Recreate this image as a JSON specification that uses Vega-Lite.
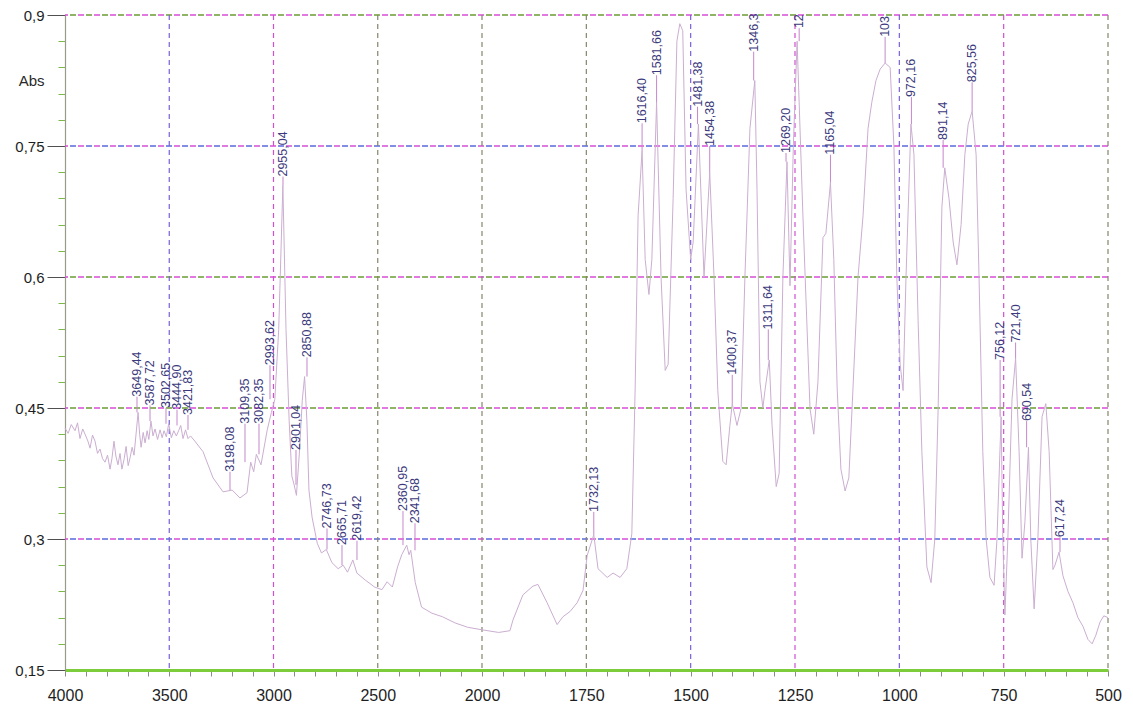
{
  "$schema": "https://vega.github.io/schema/vega-lite/v6.json",
  "width": 1043,
  "height": 655,
  "autosize": "none",
  "padding": {"left": 65, "top": 15, "right": 25, "bottom": 43},
  "background": "white",
  "config": {
    "view": {"stroke": null},
    "locale": {"number": {"decimal": ",", "thousands": ".", "grouping": [3], "currency": ["", " €"]}},
    "font": "Liberation Sans",
    "axis": {"labelOverlap": false, "labelFlush": false}
  },
  "datasets": {
    "spectrum": [
      {"wn": 4000, "abs": 0.427}, {"wn": 3985, "abs": 0.421}, {"wn": 3970, "abs": 0.431}, {"wn": 3952, "abs": 0.424},
      {"wn": 3940, "abs": 0.433}, {"wn": 3928, "abs": 0.415}, {"wn": 3915, "abs": 0.426}, {"wn": 3904, "abs": 0.420},
      {"wn": 3890, "abs": 0.412}, {"wn": 3880, "abs": 0.404}, {"wn": 3868, "abs": 0.419}, {"wn": 3856, "abs": 0.412},
      {"wn": 3844, "abs": 0.398}, {"wn": 3832, "abs": 0.403}, {"wn": 3820, "abs": 0.392}, {"wn": 3808, "abs": 0.388},
      {"wn": 3796, "abs": 0.396}, {"wn": 3784, "abs": 0.380}, {"wn": 3775, "abs": 0.392}, {"wn": 3765, "abs": 0.412},
      {"wn": 3756, "abs": 0.395}, {"wn": 3746, "abs": 0.385}, {"wn": 3736, "abs": 0.398}, {"wn": 3727, "abs": 0.380},
      {"wn": 3716, "abs": 0.392}, {"wn": 3707, "abs": 0.406}, {"wn": 3697, "abs": 0.384}, {"wn": 3688, "abs": 0.393},
      {"wn": 3678, "abs": 0.405}, {"wn": 3669, "abs": 0.396}, {"wn": 3660, "abs": 0.418},
      {"wn": 3649.44, "abs": 0.445}, {"wn": 3642, "abs": 0.420}, {"wn": 3635, "abs": 0.405}, {"wn": 3625, "abs": 0.422},
      {"wn": 3616, "abs": 0.410}, {"wn": 3606, "abs": 0.424}, {"wn": 3598, "abs": 0.414},
      {"wn": 3587.72, "abs": 0.435}, {"wn": 3578, "abs": 0.418}, {"wn": 3568, "abs": 0.426}, {"wn": 3556, "abs": 0.414},
      {"wn": 3544, "abs": 0.425}, {"wn": 3534, "abs": 0.416}, {"wn": 3525, "abs": 0.424}, {"wn": 3514, "abs": 0.417},
      {"wn": 3502.65, "abs": 0.432}, {"wn": 3490, "abs": 0.416}, {"wn": 3478, "abs": 0.424}, {"wn": 3466, "abs": 0.418},
      {"wn": 3455, "abs": 0.424}, {"wn": 3444.90, "abs": 0.430}, {"wn": 3434, "abs": 0.415},
      {"wn": 3421.83, "abs": 0.425}, {"wn": 3410, "abs": 0.415}, {"wn": 3398, "abs": 0.418}, {"wn": 3377, "abs": 0.412},
      {"wn": 3338, "abs": 0.400}, {"wn": 3290, "abs": 0.370}, {"wn": 3242, "abs": 0.354}, {"wn": 3198.08, "abs": 0.356},
      {"wn": 3161, "abs": 0.347}, {"wn": 3127, "abs": 0.353}, {"wn": 3109.35, "abs": 0.388}, {"wn": 3095, "abs": 0.377},
      {"wn": 3082.35, "abs": 0.397}, {"wn": 3060, "abs": 0.385}, {"wn": 3030, "abs": 0.425}, {"wn": 3010, "abs": 0.445},
      {"wn": 2993.62, "abs": 0.460}, {"wn": 2975, "abs": 0.540}, {"wn": 2955.04, "abs": 0.705}, {"wn": 2940, "abs": 0.540},
      {"wn": 2925, "abs": 0.436}, {"wn": 2912, "abs": 0.372}, {"wn": 2901.04, "abs": 0.362}, {"wn": 2890, "abs": 0.350},
      {"wn": 2875, "abs": 0.402}, {"wn": 2862, "abs": 0.459}, {"wn": 2850.88, "abs": 0.486}, {"wn": 2840, "abs": 0.436},
      {"wn": 2830, "abs": 0.356}, {"wn": 2815, "abs": 0.325}, {"wn": 2790, "abs": 0.295}, {"wn": 2770, "abs": 0.284},
      {"wn": 2746.73, "abs": 0.288}, {"wn": 2720, "abs": 0.273}, {"wn": 2690, "abs": 0.266}, {"wn": 2665.71, "abs": 0.270},
      {"wn": 2645, "abs": 0.262}, {"wn": 2619.42, "abs": 0.276}, {"wn": 2600, "abs": 0.261}, {"wn": 2560, "abs": 0.253},
      {"wn": 2515, "abs": 0.245}, {"wn": 2480, "abs": 0.242}, {"wn": 2455, "abs": 0.251}, {"wn": 2430, "abs": 0.245},
      {"wn": 2405, "abs": 0.268}, {"wn": 2385, "abs": 0.282}, {"wn": 2360.95, "abs": 0.293}, {"wn": 2350, "abs": 0.282},
      {"wn": 2341.68, "abs": 0.287}, {"wn": 2320, "abs": 0.250}, {"wn": 2290, "abs": 0.222}, {"wn": 2240, "abs": 0.215},
      {"wn": 2190, "abs": 0.211}, {"wn": 2130, "abs": 0.204}, {"wn": 2070, "abs": 0.199}, {"wn": 2000, "abs": 0.196},
      {"wn": 1960, "abs": 0.193}, {"wn": 1933, "abs": 0.195}, {"wn": 1926, "abs": 0.207}, {"wn": 1902, "abs": 0.236},
      {"wn": 1878, "abs": 0.246}, {"wn": 1866, "abs": 0.248}, {"wn": 1844, "abs": 0.227}, {"wn": 1820, "abs": 0.202},
      {"wn": 1806, "abs": 0.211}, {"wn": 1789, "abs": 0.217}, {"wn": 1772, "abs": 0.227}, {"wn": 1758, "abs": 0.241},
      {"wn": 1748, "abs": 0.281}, {"wn": 1732.13, "abs": 0.305}, {"wn": 1722, "abs": 0.266}, {"wn": 1700, "abs": 0.256},
      {"wn": 1686, "abs": 0.261}, {"wn": 1669, "abs": 0.256}, {"wn": 1653, "abs": 0.266}, {"wn": 1641, "abs": 0.306},
      {"wn": 1633, "abs": 0.473}, {"wn": 1626, "abs": 0.670}, {"wn": 1616.40, "abs": 0.745}, {"wn": 1609, "abs": 0.620},
      {"wn": 1600, "abs": 0.580}, {"wn": 1593, "abs": 0.620}, {"wn": 1581.66, "abs": 0.800}, {"wn": 1571, "abs": 0.600},
      {"wn": 1561, "abs": 0.493}, {"wn": 1554, "abs": 0.500}, {"wn": 1542, "abs": 0.690}, {"wn": 1533, "abs": 0.870},
      {"wn": 1526, "abs": 0.890}, {"wn": 1519, "abs": 0.882}, {"wn": 1511, "abs": 0.700}, {"wn": 1500, "abs": 0.620},
      {"wn": 1494, "abs": 0.640}, {"wn": 1481.38, "abs": 0.775}, {"wn": 1468, "abs": 0.600}, {"wn": 1454.38, "abs": 0.720},
      {"wn": 1444, "abs": 0.600}, {"wn": 1435, "abs": 0.470}, {"wn": 1423, "abs": 0.389}, {"wn": 1415, "abs": 0.385},
      {"wn": 1406, "abs": 0.430}, {"wn": 1400.37, "abs": 0.455}, {"wn": 1389, "abs": 0.430}, {"wn": 1379, "abs": 0.450},
      {"wn": 1370, "abs": 0.600}, {"wn": 1358, "abs": 0.770}, {"wn": 1346.30, "abs": 0.825}, {"wn": 1341, "abs": 0.700},
      {"wn": 1334, "abs": 0.480}, {"wn": 1327, "abs": 0.450}, {"wn": 1322, "abs": 0.470}, {"wn": 1311.64, "abs": 0.505},
      {"wn": 1305, "abs": 0.430}, {"wn": 1295, "abs": 0.360}, {"wn": 1288, "abs": 0.375}, {"wn": 1279, "abs": 0.600},
      {"wn": 1269.20, "abs": 0.732}, {"wn": 1262, "abs": 0.590}, {"wn": 1254, "abs": 0.750}, {"wn": 1244.96, "abs": 0.870},
      {"wn": 1231, "abs": 0.670}, {"wn": 1214, "abs": 0.449}, {"wn": 1205, "abs": 0.420}, {"wn": 1195, "abs": 0.480},
      {"wn": 1183, "abs": 0.645}, {"wn": 1176, "abs": 0.650}, {"wn": 1165.04, "abs": 0.708}, {"wn": 1157, "abs": 0.620},
      {"wn": 1149, "abs": 0.473}, {"wn": 1140, "abs": 0.380}, {"wn": 1130, "abs": 0.355}, {"wn": 1121, "abs": 0.370},
      {"wn": 1111, "abs": 0.473}, {"wn": 1099, "abs": 0.600}, {"wn": 1087, "abs": 0.670}, {"wn": 1075, "abs": 0.770},
      {"wn": 1066, "abs": 0.800}, {"wn": 1056, "abs": 0.825}, {"wn": 1046, "abs": 0.838}, {"wn": 1034.07, "abs": 0.845},
      {"wn": 1022, "abs": 0.840}, {"wn": 1013, "abs": 0.750}, {"wn": 1006, "abs": 0.600}, {"wn": 998, "abs": 0.500},
      {"wn": 991, "abs": 0.470}, {"wn": 984, "abs": 0.600}, {"wn": 972.16, "abs": 0.775}, {"wn": 965, "abs": 0.740},
      {"wn": 955, "abs": 0.550}, {"wn": 946, "abs": 0.400}, {"wn": 934, "abs": 0.268}, {"wn": 924, "abs": 0.250},
      {"wn": 915, "abs": 0.300}, {"wn": 907, "abs": 0.450}, {"wn": 898, "abs": 0.680}, {"wn": 891.14, "abs": 0.725},
      {"wn": 881, "abs": 0.690}, {"wn": 871, "abs": 0.640}, {"wn": 862, "abs": 0.614}, {"wn": 852, "abs": 0.660},
      {"wn": 843, "abs": 0.740}, {"wn": 835, "abs": 0.775}, {"wn": 825.56, "abs": 0.790}, {"wn": 816, "abs": 0.740},
      {"wn": 809, "abs": 0.600}, {"wn": 800, "abs": 0.400}, {"wn": 792, "abs": 0.300}, {"wn": 783, "abs": 0.256},
      {"wn": 773, "abs": 0.247}, {"wn": 766, "abs": 0.300}, {"wn": 756.12, "abs": 0.440}, {"wn": 752, "abs": 0.300},
      {"wn": 747, "abs": 0.213}, {"wn": 740, "abs": 0.300}, {"wn": 730, "abs": 0.460}, {"wn": 721.40, "abs": 0.507},
      {"wn": 713, "abs": 0.400}, {"wn": 706, "abs": 0.278}, {"wn": 699, "abs": 0.320}, {"wn": 690.54, "abs": 0.405},
      {"wn": 685, "abs": 0.300}, {"wn": 677, "abs": 0.220}, {"wn": 668, "abs": 0.300}, {"wn": 658, "abs": 0.440},
      {"wn": 649, "abs": 0.455}, {"wn": 641, "abs": 0.400}, {"wn": 632, "abs": 0.265}, {"wn": 627, "abs": 0.270},
      {"wn": 617.24, "abs": 0.285}, {"wn": 608, "abs": 0.258}, {"wn": 596, "abs": 0.240}, {"wn": 584, "abs": 0.227},
      {"wn": 572, "abs": 0.210}, {"wn": 560, "abs": 0.200}, {"wn": 548, "abs": 0.185}, {"wn": 538, "abs": 0.180},
      {"wn": 529, "abs": 0.190}, {"wn": 519, "abs": 0.205}, {"wn": 510, "abs": 0.212}, {"wn": 500, "abs": 0.210}
    ],
    "peaks": [
      {"wn": 3649.44, "abs": 0.445, "top": 0.463, "lx": 3654.7, "label": "3649,44"},
      {"wn": 3587.72, "abs": 0.435, "top": 0.453, "lx": 3592.3, "label": "3587,72"},
      {"wn": 3502.65, "abs": 0.432, "top": 0.450, "lx": 3515.6, "label": "3502,65"},
      {"wn": 3444.90, "abs": 0.430, "top": 0.448, "lx": 3462.8, "label": "3444,90"},
      {"wn": 3421.83, "abs": 0.425, "top": 0.442, "lx": 3410.1, "label": "3421,83"},
      {"wn": 3198.08, "abs": 0.356, "top": 0.377, "lx": 3208.7, "label": "3198,08"},
      {"wn": 3109.35, "abs": 0.388, "top": 0.432, "lx": 3136.7, "label": "3109,35"},
      {"wn": 3082.35, "abs": 0.397, "top": 0.432, "lx": 3069.6, "label": "3082,35"},
      {"wn": 2993.62, "abs": 0.460, "top": 0.499, "lx": 3016.8, "label": "2993,62"},
      {"wn": 2955.04, "abs": 0.705, "top": 0.715, "lx": 2954.5, "label": "2955,04"},
      {"wn": 2901.04, "abs": 0.362, "top": 0.402, "lx": 2892.1, "label": "2901,04"},
      {"wn": 2850.88, "abs": 0.486, "top": 0.508, "lx": 2839.4, "label": "2850,88"},
      {"wn": 2746.73, "abs": 0.288, "top": 0.312, "lx": 2743.4, "label": "2746,73"},
      {"wn": 2665.71, "abs": 0.270, "top": 0.293, "lx": 2671.5, "label": "2665,71"},
      {"wn": 2619.42, "abs": 0.276, "top": 0.298, "lx": 2599.6, "label": "2619,42"},
      {"wn": 2360.95, "abs": 0.293, "top": 0.332, "lx": 2379.0, "label": "2360,95"},
      {"wn": 2341.68, "abs": 0.287, "top": 0.318, "lx": 2321.4, "label": "2341,68"},
      {"wn": 1732.13, "abs": 0.305, "top": 0.331, "lx": 1732.13, "label": "1732,13"},
      {"wn": 1616.40, "abs": 0.745, "top": 0.776, "lx": 1616.40, "label": "1616,40"},
      {"wn": 1581.66, "abs": 0.800, "top": 0.831, "lx": 1581.66, "label": "1581,66"},
      {"wn": 1481.38, "abs": 0.775, "top": 0.795, "lx": 1483.5, "label": "1481,38"},
      {"wn": 1454.38, "abs": 0.720, "top": 0.750, "lx": 1454.38, "label": "1454,38"},
      {"wn": 1400.37, "abs": 0.455, "top": 0.488, "lx": 1400.37, "label": "1400,37"},
      {"wn": 1346.30, "abs": 0.825, "top": 0.858, "lx": 1349.0, "label": "1346,3"},
      {"wn": 1311.64, "abs": 0.505, "top": 0.540, "lx": 1314.0, "label": "1311,64"},
      {"wn": 1269.20, "abs": 0.732, "top": 0.742, "lx": 1271.5, "label": "1269,20"},
      {"wn": 1244.96, "abs": 0.870, "top": 0.885, "lx": 1240.0, "label": "12"},
      {"wn": 1165.04, "abs": 0.708, "top": 0.740, "lx": 1165.04, "label": "1165,04"},
      {"wn": 1034.07, "abs": 0.845, "top": 0.875, "lx": 1034.07, "label": "103"},
      {"wn": 972.16, "abs": 0.775, "top": 0.806, "lx": 971.0, "label": "972,16"},
      {"wn": 891.14, "abs": 0.725, "top": 0.757, "lx": 895.0, "label": "891,14"},
      {"wn": 825.56, "abs": 0.790, "top": 0.823, "lx": 825.56, "label": "825,56"},
      {"wn": 756.12, "abs": 0.440, "top": 0.505, "lx": 758.5, "label": "756,12"},
      {"wn": 721.40, "abs": 0.507, "top": 0.525, "lx": 721.40, "label": "721,40"},
      {"wn": 690.54, "abs": 0.405, "top": 0.435, "lx": 695.0, "label": "690,54"},
      {"wn": 617.24, "abs": 0.285, "top": 0.302, "lx": 615.0, "label": "617,24"}
    ],
    "hgrid": [{"abs": 0.3}, {"abs": 0.45}, {"abs": 0.6}, {"abs": 0.75}, {"abs": 0.9}],
    "vgrid": [
      {"wn": 3500}, {"wn": 3000}, {"wn": 2500}, {"wn": 2000}, {"wn": 1750},
      {"wn": 1500}, {"wn": 1250}, {"wn": 1000}, {"wn": 750}, {"wn": 500}
    ]
  },
  "layer": [
    {
      "data": {"name": "hgrid"},
      "mark": {"type": "rule", "color": "#d64fd6", "strokeWidth": 1.3, "strokeDash": [6, 10]},
      "encoding": {
        "y": {"field": "abs", "type": "quantitative", "scale": {"domain": [0.15, 0.9], "nice": false, "zero": false}}
      }
    },
    {
      "data": {"name": "hgrid"},
      "mark": {"type": "rule", "strokeWidth": 1.3, "strokeDash": [6, 10], "strokeDashOffset": 8},
      "encoding": {
        "y": {"field": "abs", "type": "quantitative", "scale": {"domain": [0.15, 0.9], "nice": false, "zero": false}},
        "color": {
          "condition": {"test": "datum.abs == 0.75 || datum.abs == 0.3", "value": "#5a68dc"},
          "value": "#6c9c34"
        }
      }
    },
    {
      "data": {"name": "vgrid"},
      "mark": {"type": "rule", "strokeWidth": 1.2, "strokeDash": [5, 4]},
      "encoding": {
        "x": {"field": "wn", "type": "quantitative", "scale": {"domain": [4000, 2000, 500], "range": [0, 417, 1043], "nice": false, "zero": false}},
        "color": {
          "condition": [
            {"test": "datum.wn == 3000 || datum.wn == 1250 || datum.wn == 750", "value": "#d050d0"},
            {"test": "datum.wn == 3500 || datum.wn == 1500 || datum.wn == 1000", "value": "#7a60d8"}
          ],
          "value": "#85856a"
        }
      }
    },
    {
      "data": {"name": "spectrum"},
      "mark": {"type": "line", "color": "#cbaed1", "strokeWidth": 1, "interpolate": "linear"},
      "encoding": {
        "x": {
          "field": "wn", "type": "quantitative",
          "scale": {"domain": [4000, 2000, 500], "range": [0, 417, 1043], "nice": false, "zero": false},
          "axis": {
            "title": null,
            "values": [4000, 3900, 3800, 3700, 3600, 3500, 3400, 3300, 3200, 3100, 3000, 2900, 2800, 2700, 2600, 2500, 2400, 2300, 2200, 2100, 2000,
                       1950, 1900, 1850, 1800, 1750, 1700, 1650, 1600, 1550, 1500, 1450, 1400, 1350, 1300, 1250, 1200, 1150, 1100, 1050, 1000,
                       950, 900, 850, 800, 750, 700, 650, 600, 550, 500],
            "tickCount": 200,
            "format": "d",
            "labelExpr": "(datum.value >= 2000 ? datum.value % 500 == 0 : datum.value % 250 == 0) ? datum.label : ''",
            "labelOverlap": false,
            "labelFlush": false,
            "labelFont": "Liberation Sans",
            "labelFontSize": 16,
            "labelColor": "#1e1e1e",
            "labelPadding": 11,
            "grid": false,
            "tickSize": 6,
            "tickColor": "#8a8a8a",
            "domainColor": "#7ccc3c",
            "domainWidth": 3
          }
        },
        "y": {
          "field": "abs", "type": "quantitative",
          "scale": {"domain": [0.15, 0.9], "nice": false, "zero": false},
          "axis": {
            "title": "Abs",
            "titleAngle": 0,
            "titleAlign": "right",
            "titleBaseline": "middle",
            "titleX": -21,
            "titleY": 65,
            "titleFont": "Liberation Sans",
            "titleFontSize": 15,
            "titleFontWeight": "normal",
            "titleColor": "#2a2a2a",
            "values": [0.15, 0.18, 0.21, 0.24, 0.27, 0.3, 0.33, 0.36, 0.39, 0.42, 0.45, 0.48, 0.51, 0.54, 0.57, 0.6, 0.63, 0.66, 0.69, 0.72, 0.75, 0.78, 0.81, 0.84, 0.87, 0.9],
            "tickCount": 200,
            "format": ".2~f",
            "labelExpr": "round(datum.value * 100) % 15 == 0 ? datum.label : ''",
            "labelOverlap": false,
            "labelFlush": false,
            "labelFont": "Liberation Sans",
            "labelFontSize": 15,
            "labelColor": "#1e1e1e",
            "labelPadding": 3,
            "grid": false,
            "tickSize": {"condition": {"test": "round(datum.value * 100) % 15 == 0", "value": 18}, "value": 7},
            "tickColor": {"condition": {"test": "round(datum.value * 100) % 15 == 0", "value": "#505050"}, "value": "#7ab848"},
            "domainColor": "#9a9a88",
            "domainWidth": 1.2
          }
        }
      }
    },
    {
      "data": {"name": "peaks"},
      "mark": {"type": "rule", "color": "#c488cc", "strokeWidth": 1},
      "encoding": {
        "x": {"field": "lx", "type": "quantitative", "scale": {"domain": [4000, 2000, 500], "range": [0, 417, 1043], "nice": false, "zero": false}},
        "y": {"field": "abs", "type": "quantitative", "scale": {"domain": [0.15, 0.9], "nice": false, "zero": false}},
        "y2": {"field": "top"}
      }
    },
    {
      "data": {"name": "peaks"},
      "mark": {"type": "text", "angle": 270, "align": "left", "baseline": "middle", "font": "Liberation Sans", "fontSize": 12.5, "color": "#3c3a7c"},
      "encoding": {
        "x": {"field": "lx", "type": "quantitative", "scale": {"domain": [4000, 2000, 500], "range": [0, 417, 1043], "nice": false, "zero": false}},
        "y": {"field": "top", "type": "quantitative", "scale": {"domain": [0.15, 0.9], "nice": false, "zero": false}},
        "text": {"field": "label", "type": "nominal"}
      }
    }
  ]
}
